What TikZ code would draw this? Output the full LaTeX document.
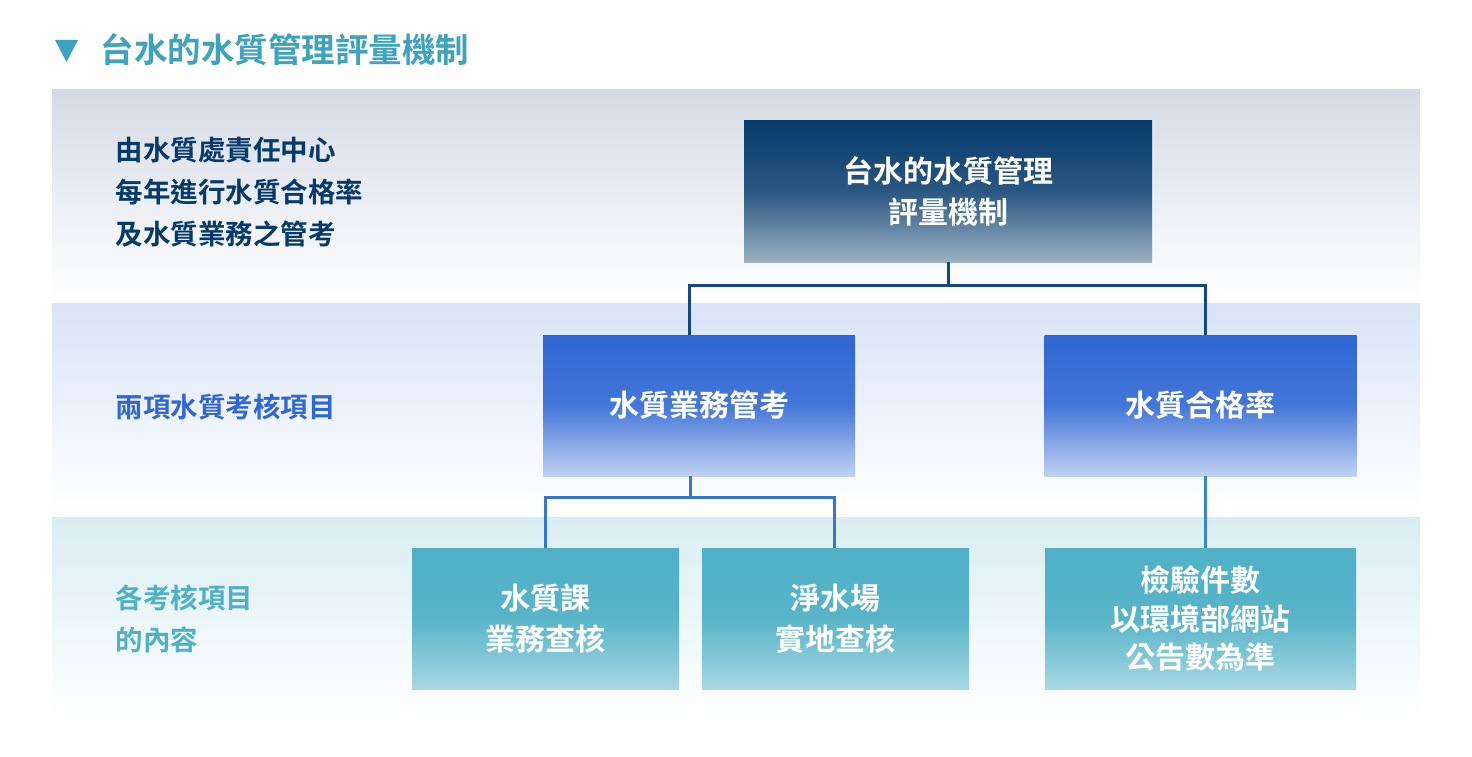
\documentclass[tikz,border=0pt]{standalone}
\usepackage{fontspec}
\newfontfamily\cjk{Noto Sans CJK TC Bold}
\definecolor{navy}{HTML}{053A6B}
\definecolor{blu}{HTML}{2F67D4}
\definecolor{teal}{HTML}{4FB0C6}
\definecolor{ttl}{HTML}{3EA3BD}
\definecolor{band1}{HTML}{D5DBE5}
\begin{document}
\begin{tikzpicture}[x=1pt,y=-1pt,
  box/.style={draw=none,minimum width=#1,minimum height=141pt,text=white,font=\cjk\fontsize{30}{41}\selectfont,align=center,inner sep=0pt},
  b1/.style={box=408pt,top color=navy,bottom color=navy!40!white,middle color=navy!85!white},
  b2/.style={box=312pt,top color=blu,bottom color=blu!30!white,middle color=blu!90!white},
  b3/.style={box=267pt,top color=teal,bottom color=teal!50!white,middle color=teal!95!white},
  lab/.style={anchor=west,font=\cjk\fontsize{27.5}{42}\selectfont,align=left},
  con/.style={line width=3pt}]
\useasboundingbox (0,0) rectangle (1472,757);
\fill[white] (0,0) rectangle (1472,757);
\shade[top color=band1,bottom color=white] (52,90) rectangle (1420,300);
\shade[top color=blu!18!white,bottom color=white] (52,303) rectangle (1420,512);
\shade[top color=teal!22!white,bottom color=white] (52,517) rectangle (1420,720);
\fill[ttl] (55,40) -- (78,40) -- (66.5,62) -- cycle;
\node[anchor=west,text=ttl,font=\cjk\fontsize{33.5}{36}\selectfont] (t) at (97,50) {台水的水質管理評量機制};
\node[lab,text=navy] (l1) at (112,192) {由水質處責任中心\\每年進行水質合格率\\及水質業務之管考};
\node[lab,text=blu] (l2) at (112,407) {兩項水質考核項目};
\node[lab,text=teal] (l3) at (112,619) {各考核項目\\的內容};
\node[b1] (top) at (948,191.5) {台水的水質管理\\評量機制};
\node[b2] (m1) at (699,405.5) {水質業務管考};
\node[b2] (m2) at (1200.5,405.5) {水質合格率};
\node[b3] (c1) at (545.5,618.5) {水質課\\業務查核};
\node[b3] (c2) at (835.5,618.5) {淨水場\\實地查核};
\node[b3,box=311pt,font=\cjk\fontsize{30}{38.5}\selectfont] (c3) at (1200.5,618.5) {檢驗件數\\以環境部網站\\公告數為準};
\draw[con,navy!70!blu] (top.south) -- ++(0,23) coordinate (j1) -| (689,335);
\draw[con,navy!70!blu] (j1) -| (1205,335);
\draw[con,blu!80!teal] (690,476) -- ++(0,21) coordinate (j2) -| (545,548);
\draw[con,blu!80!teal] (j2) -| (834,548);
\draw[con,blu!60!teal] (1205,476) -- (1205,548);
\end{tikzpicture}
\end{document}
